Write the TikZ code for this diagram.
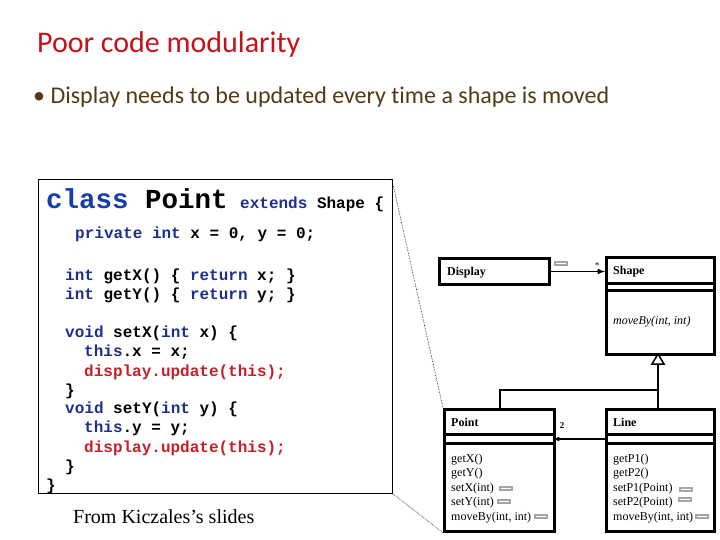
\documentclass[tikz,border=0pt]{standalone}
\usepackage{fontspec}
\setmainfont{Carlito}[Ligatures=NoCommon]
\newfontfamily\umlfont{Liberation Serif}
\newfontfamily\codefont{Liberation Mono}
\definecolor{titlered}{RGB}{200,16,24}
\definecolor{bulletbrown}{RGB}{84,58,20}
\definecolor{kwblue}{RGB}{28,48,140}
\definecolor{classblue}{RGB}{22,62,170}
\definecolor{codered}{RGB}{200,30,40}
\definecolor{icongray}{RGB}{165,165,165}
\tikzset{
  codeline/.style={anchor=base west, inner sep=0pt, font=\codefont\bfseries\fontsize{16}{18}\selectfont},
  umlbox/.style={draw=black, line width=3pt, rectangle, inner sep=0pt, anchor=north west},
  umltext/.style={anchor=base west, inner sep=0pt, font=\umlfont\fontsize{12}{14}\selectfont},
  umlname/.style={umltext, font=\umlfont\bfseries\fontsize{12}{14}\selectfont},
}
\newcommand{\kw}[1]{\textcolor{kwblue}{#1}}
\newcommand{\noteicon}[1]{\fill[icongray] (#1) ++(-7,-2.5) rectangle ++(14,5);
  \draw[white, line width=0.6pt] (#1) ++(-5,0) -- ++(10,0);}
\begin{document}
\begin{tikzpicture}[x=1pt, y=-1pt]
			\useasboundingbox (0,0) rectangle (720,540);
			% title and bullet
			\node[anchor=base west, inner sep=0pt, text=titlered, font=\fontsize{30}{34}\selectfont] (title) at (37,53) {Poor code modularity};
			\node[anchor=base west, inner sep=0pt, text=bulletbrown, font=\fontsize{24}{28}\selectfont] (bullet) at (33,104) {\textbullet\ Display needs to be updated every time a shape is moved};
			% code box
			\draw[line width=1pt] (38,180) rectangle (392,493);
			\node[codeline, font=\codefont\bfseries\fontsize{27.5}{30}\selectfont] (cls) at (46,208) {\textcolor{classblue}{class} Point};
			\node[codeline, anchor=base west] (ext) at (240,208) {\kw{extends} Shape \{};
			\node[codeline] (c1) at (75,239) {\kw{private} \kw{int} x = 0, y = 0;};
			\node[codeline] (c2) at (65,280) {\kw{int} getX() \{ \kw{return} x; \}};
			\node[codeline] (c3) at (65,299) {\kw{int} getY() \{ \kw{return} y; \}};
			\node[codeline] (c4) at (65,337) {\kw{void} setX(\kw{int} x) \{};
			\node[codeline] (c5) at (84,356) {\kw{this}.x = x;};
			\node[codeline, text=codered] (c6) at (84,376) {display.update(this);};
			\node[codeline] (c7) at (65,395) {\}};
			\node[codeline] (c8) at (65,413) {\kw{void} setY(\kw{int} y) \{};
			\node[codeline] (c9) at (84,432) {\kw{this}.y = y;};
			\node[codeline, text=codered] (c10) at (84,452) {display.update(this);};
			\node[codeline] (c11) at (65,471) {\}};
			\node[codeline] (c12) at (46,490) {\}};
			\node[anchor=base west, inner sep=0pt, font=\umlfont\fontsize{20}{24}\selectfont] (src) at (73,523) {From Kiczales’s slides};
			% uml classes
			\node[umlbox, minimum width=110, minimum height=26] (display) at (438,257) {};
			\node[umlname] at (447,275) {Display};
			\node[umlbox, minimum width=108, minimum height=97] (shape) at (605,256) {};
			\node[umlname] at (613,274) {Shape};
			\draw[line width=3pt] (605,283) -- (713,283) (605,290) -- (713,290);
			\node[umltext, font=\umlfont\itshape\fontsize{12}{14}\selectfont] at (613,324) {moveBy(int, int)};
			\node[umlbox, minimum width=110, minimum height=122] (point) at (443,408) {};
			\node[umlname] at (451,426) {Point};
			\draw[line width=3pt] (443,434) -- (553,434) (443,443) -- (553,443);
			\node[umltext] at (451,462) {getX()};
			\node[umltext] at (451,476) {getY()};
			\node[umltext] at (451,491) {setX(int)};
			\node[umltext] at (451,505) {setY(int)};
			\node[umltext] at (451,520) {moveBy(int, int)};
			\node[umlbox, minimum width=108, minimum height=122] (line) at (605,408) {};
			\node[umlname] at (613,426) {Line};
			\draw[line width=3pt] (605,434) -- (713,434) (605,443) -- (713,443);
			\node[umltext] at (613,462) {getP1()};
			\node[umltext] at (613,476) {getP2()};
			\node[umltext] at (613,491) {setP1(Point)};
			\node[umltext] at (613,505) {setP2(Point)};
			\node[umltext] at (613,520) {moveBy(int, int)};
			% connectors
			\draw[-latex, line width=1.5pt] (display.east) -- (display.east -| shape.west);
			\node[font=\umlfont\fontsize{6}{7}\selectfont] at (550,261) {1};
			\node[font=\umlfont\fontsize{9}{10}\selectfont] at (597,266) {*};
			\noteicon{561,263}
			\coordinate (split) at (658,390);
			\draw[line width=2pt] (point.north) |- (split) -- (658,364);
			\draw[line width=2pt] (line.north -| split) -- (split);
			\draw[line width=1.5pt, fill=white] (658,354) -- (652,364) -- (664,364) -- cycle;
			\draw[-latex, line width=1.2pt] (605,439) -- (553,439);
			\node[font=\umlfont\bfseries\fontsize{9}{10}\selectfont] at (562,426) {2};
			\noteicon{506,488}
			\noteicon{504,501}
			\noteicon{541,516}
			\noteicon{686,489}
			\noteicon{685,499}
			\noteicon{702,516}
			% dotted zoom lines
			\draw[densely dotted, line width=0.6pt] (392,180) -- (point.north west);
			\draw[densely dotted, line width=0.6pt] (392,493) -- (point.south west);
		\end{tikzpicture}
\end{document}
